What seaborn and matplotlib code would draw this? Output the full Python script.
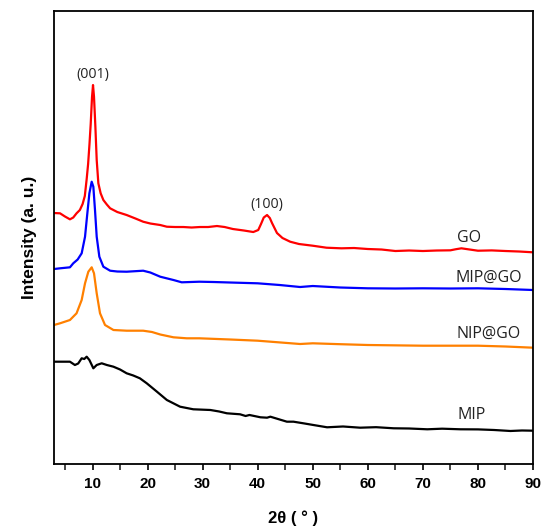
import numpy as np
import pandas as pd
import matplotlib
matplotlib.use("Agg")
import matplotlib.pyplot as plt
import seaborn as sns
from matplotlib.ticker import MultipleLocator, NullLocator

# ---- data (intensity in arbitrary units) ----
go_x = [3.0, 4.1, 5.0, 5.9, 6.5, 7.1, 7.7, 8.2, 8.6, 8.94, 9.2, 9.45, 9.67, 9.91, 10.09, 10.27,
        10.52, 10.76, 11.06, 11.48, 11.97, 12.6, 13.2, 14.5, 16.2, 17.8, 19.2, 20.5, 22.3,
        23.5, 25.0, 26.5, 28.0, 29.5, 31.0, 32.6, 34.0, 35.5, 37.5, 39.2, 40.1, 40.6, 41.1,
        41.7, 42.2, 42.6, 43.5, 44.5, 45.9, 47.5, 50.0, 52.5, 55.2, 57.5, 60.0, 62.5, 65.0,
        67.5, 70.0, 72.5, 75.0, 76.0, 77.0, 78.5, 80.0, 82.5, 85.0, 87.5, 90.0]
go_y = [251, 250.7, 247.5, 244.7, 246.5, 250.7, 254, 260, 268, 285, 300, 320, 340, 367, 379, 367.3,
        337.3, 304, 280.7, 270.7, 264, 259.5, 255.7, 252, 249, 245.5, 242.3, 240.5, 239,
        237.3, 237, 237, 236.5, 237, 237, 238, 237, 235, 233.5, 232, 234, 240, 246.5,
        249, 246, 241, 231, 226, 222.3, 220, 218.3, 216.3, 215.7, 216, 215, 214.5, 213,
        213.5, 213, 213.5, 213.7, 214.8, 215.7, 214.5, 213.3, 213.6, 213, 212.5, 211.7]

mipgo_x = [3.0, 4.1, 5.9, 6.5, 7.3, 8.03, 8.64, 9.06, 9.43, 9.85, 10.15, 10.45, 10.76, 11.24,
           11.97, 13.2, 14.5, 16.2, 17.7, 19.2, 20.5, 22.3, 24.7, 26.2, 29.4, 32.0, 35.0, 40.0,
           44.0, 47.7, 50.0, 55.0, 60.0, 65.0, 70.0, 75.0, 80.0, 85.0, 90.0]
mipgo_y = [195, 195.7, 196.7, 200.7, 204.5, 210.7, 227.3, 250.7, 270.7, 282.3, 277.3, 254, 227.3, 207.3,
           197.3, 193.3, 192.5, 192.3, 192.8, 193.3, 191.5, 187.3, 184, 181.7, 182.3, 182, 181.5, 180.7,
           179, 177, 178, 176.5, 175.7, 175.5, 175.7, 175.5, 175.7, 175, 174]

nipgo_x = [3.0, 4.1, 5.9, 7.1, 8.03, 8.64, 9.24, 9.85, 10.27, 10.76, 11.36, 12.27, 13.8, 16.2,
           19.2, 20.8, 22.3, 24.7, 27.1, 29.4, 35.0, 40.0, 47.7, 50.0, 55.0, 60.0, 70.0, 80.0,
           85.0, 90.0]
nipgo_y = [139, 140.7, 144, 150.7, 164, 180.7, 192.3, 196.7, 190.7, 170.7, 150.7, 139, 134, 133.3,
           133.3, 132, 129.5, 126.7, 125.7, 125.7, 124.5, 123.3, 120, 120.7, 119.8, 119, 118.3, 118.3,
           117.5, 116.3]

mip_x = [3.0, 4.1, 5.9, 6.8, 7.4, 8.03, 8.5, 8.94, 9.43, 10.15, 10.76, 11.67, 12.6, 13.8,
         15.0, 16.2, 17.4, 18.6, 19.85, 21.7, 23.5, 25.9, 28.3, 31.4, 33.0, 34.4, 36.8, 37.8,
         38.5, 40.5, 41.7, 42.3, 45.3, 46.5, 48.5, 50.1, 52.6, 55.5, 58.6, 61.5, 64.7, 67.5,
         70.8, 73.5, 76.8, 80.0, 82.9, 85.9, 88.0, 90.0]
mip_y = [102.3, 102.3, 102.3, 99, 100.5, 105.7, 105, 107.3, 104, 95.7, 99, 100.7, 99, 97.3,
         94.5, 90.7, 88.5, 85.7, 80.7, 72.3, 64, 57.3, 54.7, 54, 52.5, 50.7, 49.7, 48,
         49, 46.7, 46.3, 47.3, 42.3, 42.3, 40.5, 39, 36.7, 37.5, 36.3, 36.8, 35.7, 35.5,
         34.7, 35.3, 34.7, 34.6, 34, 33, 33.5, 33.3]

series = [
    ("GO", go_x, go_y, "#ff0000"),
    ("MIP@GO", mipgo_x, mipgo_y, "#0000ff"),
    ("NIP@GO", nipgo_x, nipgo_y, "#ff8000"),
    ("MIP", mip_x, mip_y, "#000000"),
]

labels_txt = ["GO", "MIP@GO", "NIP@GO", "MIP"]
label_x = [78.4, 82.0, 82.0, 78.9]
label_y = [226, 186, 130, 49]
peak_txt = ["(001)", "(100)"]
peak_x = [10.09, 41.7]
peak_y = [390, 260]

xlim = (3, 90)
ylim = (0, 453)

# ---- plotting ----
sns.set_theme(style="ticks")
plt.rcParams["font.family"] = ["Liberation Sans", "DejaVu Sans"]

fig = plt.figure(figsize=(5.43, 5.26), dpi=100)
ax = fig.add_axes([0.0994, 0.1179, 0.8822, 0.8611])

for name, xs, ys, c in series:
    df = pd.DataFrame({"x": xs, "y": ys})
    sns.lineplot(data=df, x="x", y="y", ax=ax, color=c, linewidth=1.6,
                 sort=False, estimator=None)
for ln in ax.get_lines():
    ln.set_solid_joinstyle("round")
    ln.set_solid_capstyle("round")

ax.set_xlim(*xlim)
ax.set_ylim(*ylim)
ax.set_xticks([10, 20, 30, 40, 50, 60, 70, 80, 90])
ax.xaxis.set_minor_locator(MultipleLocator(5))
ax.yaxis.set_major_locator(NullLocator())
ax.yaxis.set_minor_locator(NullLocator())

for sp in ax.spines.values():
    sp.set_visible(True)
    sp.set_linewidth(1.3)
    sp.set_color("black")

ax.tick_params(axis="x", which="major", direction="out", length=4.5, width=1.2,
               labelsize=11, pad=5, colors="black")
ax.tick_params(axis="x", which="minor", direction="out", length=4, width=1.2)
for lab in ax.get_xticklabels():
    lab.set_fontweight("bold")

ax.set_xlabel("2θ ( ° )", fontsize=12, fontweight="bold", labelpad=14, color="black")
ax.set_ylabel("Intensity (a. u.)", fontsize=12.5, fontweight="bold", labelpad=12, color="black")

for t, xx, yy in zip(labels_txt, label_x, label_y):
    ax.text(xx, yy, t, ha="center", va="center", fontsize=11.5,
            family=["Open Sans", "DejaVu Sans"], color="#222222")
for t, xx, yy in zip(peak_txt, peak_x, peak_y):
    ax.text(xx, yy, t, ha="center", va="center", fontsize=10.2,
            family=["Open Sans", "DejaVu Sans"], color="#222222")

fig.savefig("out.png", dpi=100)
